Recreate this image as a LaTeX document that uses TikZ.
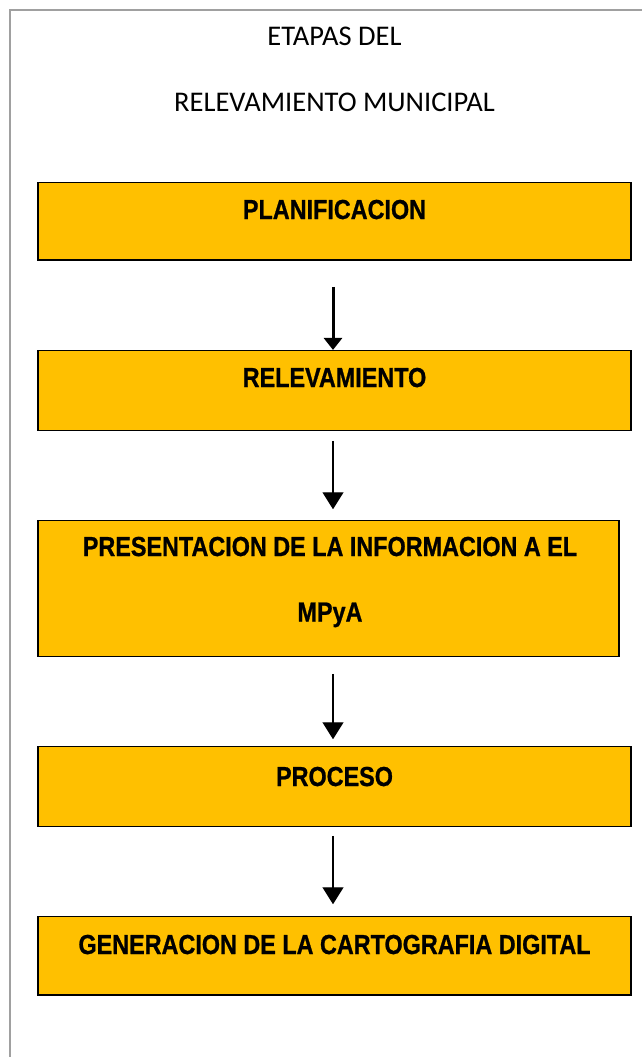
\documentclass[tikz,border=0pt]{standalone}
\usepackage{fontspec}
\setmainfont{Liberation Sans}
\newfontfamily\boxfont{Liberation Sans}[FakeStretch=0.85,BoldFeatures={FakeStretch=0.85,FakeBold=0.8}]
\newfontfamily\titlefont{Carlito}
\usetikzlibrary{arrows.meta}
\definecolor{boxfill}{HTML}{FFC000}
\definecolor{framegray}{HTML}{A0A0A0}
\begin{document}
\begin{tikzpicture}[x=1pt,y=-1pt,
  stagebox/.style={draw=black,line width=1.5pt,fill=boxfill,rectangle,inner sep=0pt},
  stagetext/.style={anchor=base,inner sep=0pt,font=\boxfont\fontsize{27.5}{32}\selectfont\bfseries},
  titletext/.style={anchor=base,inner sep=0pt,font=\titlefont\fontsize{28.5}{33}\selectfont},
  thinarrow/.style={draw=black,line width=1.3pt,-{Triangle[width=21pt,length=17pt]}},
  thickarrow/.style={draw=black,line width=3pt,-{Triangle[width=18pt,length=12pt]}}]
\useasboundingbox (0,0) rectangle (641,1057);
\fill[white] (0,0) rectangle (641,1057);
% frame
\draw[framegray,line width=1.8pt] (10,1060) -- (10,10) -- (650,10);
% title
\node[titletext] (title1) at (334.5,45.7) {ETAPAS DEL};
\node[titletext] (title2) at (334.5,111) {RELEVAMIENTO MUNICIPAL};
% boxes
\node[stagebox,minimum width=593pt,minimum height=77.3pt] (b1) at (334.5,221.35) {};
\node[stagebox,minimum width=593pt,minimum height=80pt] (b2) at (334.5,390.7) {};
\node[stagebox,minimum width=581pt,minimum height=136pt] (b3) at (328.5,588.7) {};
\node[stagebox,minimum width=593pt,minimum height=80pt] (b4) at (334.5,786.7) {};
\node[stagebox,minimum width=593pt,minimum height=78.3pt] (b5) at (334.5,955.85) {};
% texts
\node[stagetext] (t1) at (334.5,219) {PLANIFICACION};
\node[stagetext] (t2) at (334.5,387) {RELEVAMIENTO};
\node[stagetext] (t3a) at (330,556) {PRESENTACION DE LA INFORMACION A EL};
\node[stagetext] (t3b) at (330,621.5) {MPyA};
\node[stagetext] (t4) at (334.5,786) {PROCESO};
\node[stagetext] (t5) at (334.5,954) {GENERACION DE LA CARTOGRAFIA DIGITAL};
% arrows
\coordinate (ax) at (333,0);
\draw[thickarrow,shorten <=26pt] (b1.south -| ax) -- (b2.north -| ax);
\draw[thinarrow,shorten <=9.3pt,shorten >=10.7pt] (b2.south -| ax) -- (b3.north -| ax);
\draw[thinarrow,shorten <=16.3pt,shorten >=6.7pt] (b3.south -| ax) -- (b4.north -| ax);
\draw[thinarrow,shorten <=8.3pt,shorten >=11.7pt] (b4.south -| ax) -- (b5.north -| ax);
\end{tikzpicture}
\end{document}
